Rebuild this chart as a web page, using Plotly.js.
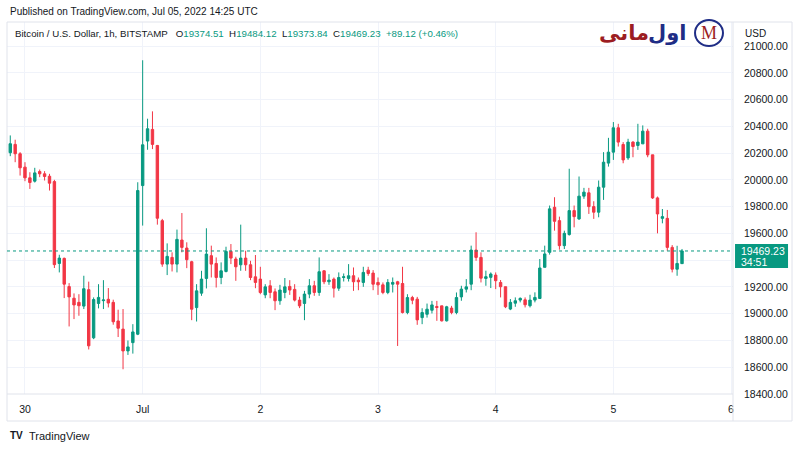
<!DOCTYPE html>
<html>
<head>
<meta charset="utf-8">
<script src="https://cdn.plot.ly/plotly-3.0.1.min.js"></script>
<style>
  html, body { margin: 0; padding: 0; background: #ffffff; }
  #chart { width: 800px; height: 450px; }
</style>
</head>
<body>
<div id="chart"></div>
<script>
// hourly BTC/USD candles, Bitstamp, first bar 2022-06-29 21:00 UTC
const firstBar = Date.UTC(2022, 5, 29, 21, 0);

const opens = [
  20204, 20266, 20196, 20096, 20016, 19991, 20063, 20046, 20028, 19988,
  19376, 19414, 19203, 19116, 19085, 19057, 19180, 18820, 19077, 19098,
  19108, 19085, 18946, 18885, 18722, 18784, 18847, 19958, 20291, 20378,
  20258, 19696, 19371, 19421, 19371, 19551, 19491, 19389, 19046, 19154,
  19264, 19434, 19376, 19271, 19316, 19466, 19409, 19366, 19416, 19366,
  19276, 19259, 19141, 19209, 19164, 19097, 19159, 19204, 19182, 19102,
  19077, 19147, 19209, 19159, 19321, 19239, 19259, 19191, 19271, 19264,
  19284, 19251, 19234, 19326, 19304, 19234, 19216, 19159, 19221, 19239,
  19226, 19009, 19121, 19109, 18971, 18996, 19026, 19054, 19059, 18947,
  19042, 19009, 19126, 19184, 19221, 19476, 19421, 19264, 19272, 19289,
  19234, 19202, 19035, 19079, 19102, 19104, 19060, 19102, 19114, 19347,
  19459, 19796, 19696, 19509, 19592, 19771, 19709, 19879, 19904, 19801,
  19759, 19946, 20126, 20208, 20390, 20265, 20165, 20283, 20258, 20270,
  20365, 20188, 19866, 19713, 19713, 19496, 19333, 19374.51
];
const highs = [
  20333, 20301, 20208, 20133, 20058, 20091, 20078, 20066, 20046, 20001,
  19441, 19420, 19229, 19152, 19146, 19284, 19240, 19122, 19221, 19251,
  19192, 19105, 19030, 19035, 18800, 18922, 19983, 20895, 20458, 20513,
  20262, 19709, 19526, 19459, 19629, 19753, 19534, 19396, 19221, 19321,
  19639, 19509, 19421, 19384, 19501, 19521, 19426, 19666, 19471, 19396,
  19439, 19351, 19221, 19251, 19189, 19216, 19267, 19251, 19221, 19127,
  19171, 19259, 19246, 19421, 19326, 19296, 19271, 19309, 19301, 19371,
  19346, 19271, 19351, 19351, 19326, 19271, 19234, 19259, 19271, 19246,
  19351, 19146, 19134, 19126, 19041, 19076, 19096, 19096, 19059, 19059,
  19059, 19159, 19209, 19259, 19509, 19609, 19459, 19322, 19309, 19309,
  19252, 19202, 19110, 19122, 19122, 19122, 19142, 19160, 19409, 19509,
  19809, 19871, 19726, 19621, 20084, 19809, 20026, 19941, 19941, 19841,
  19996, 20208, 20315, 20433, 20420, 20283, 20308, 20290, 20420, 20408,
  20383, 20188, 19876, 19783, 19776, 19513, 19508, 19484.12
];
const lows = [
  20178, 20133, 20033, 19991, 19933, 19981, 20021, 19996, 19921, 19342,
  19309, 19117, 18905, 18960, 18985, 19035, 18733, 18810, 19040, 19035,
  19047, 18918, 18826, 18585, 18692, 18702, 18840, 19659, 20226, 20231,
  19666, 19351, 19289, 19316, 19309, 19459, 19341, 18952, 18942, 19134,
  19189, 19271, 19196, 19221, 19309, 19371, 19246, 19321, 19321, 19251,
  19191, 19146, 19116, 19116, 19027, 19067, 19116, 19141, 19092, 19042,
  18952, 19116, 19134, 19134, 19221, 19216, 19121, 19171, 19241, 19241,
  19171, 19176, 19201, 19284, 19176, 19141, 19146, 19146, 19159, 18759,
  19002, 18996, 19071, 18917, 18922, 18971, 19002, 18947, 18942, 18942,
  18996, 18996, 19097, 19159, 19176, 19396, 19234, 19209, 19192, 19184,
  19122, 19042, 19027, 19052, 19085, 19047, 19047, 19085, 19110, 19347,
  19442, 19621, 19479, 19484, 19584, 19646, 19701, 19859, 19746, 19709,
  19721, 19851, 20100, 20150, 20250, 20125, 20150, 20170, 20225, 20270,
  20170, 19858, 19601, 19676, 19471, 19309, 19284, 19373.84
];
const closes = [
  20271, 20196, 20091, 20016, 19981, 20053, 20046, 20026, 19976, 19367,
  19416, 19221, 19126, 19066, 19060, 19187, 18760, 19106, 19122, 19103,
  19080, 18940, 18892, 18722, 18752, 18864, 19921, 20263, 20383, 20266,
  19714, 19371, 19429, 19371, 19556, 19496, 19404, 19034, 19171, 19259,
  19446, 19371, 19271, 19321, 19466, 19416, 19351, 19416, 19366, 19271,
  19234, 19159, 19201, 19159, 19097, 19177, 19201, 19177, 19102, 19059,
  19147, 19209, 19159, 19314, 19239, 19251, 19191, 19271, 19276, 19284,
  19239, 19239, 19309, 19301, 19221, 19216, 19159, 19234, 19234, 19221,
  19009, 19121, 19101, 18954, 19009, 19034, 19066, 19047, 18947, 19052,
  19009, 19121, 19184, 19201, 19476, 19421, 19266, 19277, 19297, 19247,
  19202, 19052, 19085, 19097, 19115, 19067, 19102, 19122, 19342, 19447,
  19784, 19691, 19509, 19601, 19771, 19726, 19879, 19909, 19801, 19759,
  19946, 20133, 20208, 20390, 20283, 20150, 20283, 20250, 20283, 20365,
  20188, 19866, 19746, 19726, 19496, 19333, 19376, 19469.23
];

const dayTicks = ['2022-06-30', '2022-07-01', '2022-07-02', '2022-07-03', '2022-07-04', '2022-07-05', '2022-07-06'];
const dayLabels = ['30', 'Jul', '2', '3', '4', '5', '6'];
const priceTicks = [18400, 18600, 18800, 19000, 19200, 19400, 19600, 19800, 20000, 20200, 20400, 20600, 20800, 21000];
// 19400.00 sits under the last-price badge, so its label is not shown
const hiddenTick = 19400;

const up = '#089981';
const down = '#f23645';
const ink = '#131722';

function barTime(i) {
  const d = new Date(firstBar + i * 3600000);
  return d.toISOString().slice(0, 16).replace('T', ' ');
}
const times = opens.map((_, i) => barTime(i));
const last = closes[closes.length - 1];
const priceLabels = priceTicks.map(v => v === hiddenTick ? '' : v.toFixed(2));

const trace = {
  type: 'candlestick',
  x: times,
  open: opens,
  high: highs,
  low: lows,
  close: closes,
  increasing: { line: { color: up, width: 1 }, fillcolor: up },
  decreasing: { line: { color: down, width: 1 }, fillcolor: down },
  whiskerwidth: 0,
  hoverinfo: 'skip',
  showlegend: false
};

const frame = '#e0e3eb';

const layout = {
  width: 800,
  height: 450,
  margin: { l: 7, r: 67, t: 22, b: 56 },
  paper_bgcolor: '#ffffff',
  plot_bgcolor: '#ffffff',
  font: { family: 'Liberation Sans, Arial, sans-serif', size: 11, color: ink },
  showlegend: false,
  xaxis: {
    type: 'date',
    range: ['2022-06-29 20:20', '2022-07-06 00:24'],
    rangeslider: { visible: false },
    tickvals: dayTicks,
    ticktext: dayLabels,
    tickfont: { size: 10.5, color: ink },
    ticks: '',
    ticklabelstandoff: 7,
    showgrid: true,
    gridcolor: '#f0f3fa',
    gridwidth: 1,
    zeroline: false,
    showline: false,
    fixedrange: true
  },
  yaxis: {
    side: 'right',
    range: [18400, 21181],
    tickvals: priceTicks,
    ticktext: priceLabels,
    tickfont: { size: 10.5, color: ink },
    ticks: '',
    ticklabelstandoff: 10,
    showgrid: true,
    gridcolor: '#f0f3fa',
    gridwidth: 1,
    zeroline: false,
    showline: false,
    fixedrange: true
  },
  shapes: [
    // outer frame
    { type: 'rect', xref: 'paper', yref: 'paper', x0: 0, x1: 1.0813, y0: -0.0726, y1: 1,
      line: { color: frame, width: 1 } },
    // price scale separator
    { type: 'line', xref: 'paper', yref: 'paper', x0: 1, x1: 1, y0: -0.0726, y1: 1,
      line: { color: frame, width: 1 } },
    // time scale separator
    { type: 'line', xref: 'paper', yref: 'paper', x0: 0, x1: 1, y0: 0, y1: 0,
      line: { color: frame, width: 1 } },
    // last price line
    { type: 'line', xref: 'paper', yref: 'y', x0: 0, x1: 1, y0: last, y1: last,
      line: { color: up, width: 1, dash: 'dot' } },
    // last price badge
    { type: 'rect', xref: 'paper', yref: 'paper', x0: 1.0028, x1: 1.0758, y0: 0.3387, y1: 0.4032,
      fillcolor: up, line: { width: 0 } },
    // logo ring
    { type: 'circle', xref: 'paper', yref: 'paper',
      x0: 0.9477, x1: 0.9862, y0: 0.9355, y1: 1.0054,
      line: { color: '#1f2d86', width: 2 } }
  ],
  annotations: [
    { xref: 'paper', yref: 'paper', x: 0.0014, y: 1.0269, xanchor: 'left', yanchor: 'middle',
      text: 'Published on TradingView.com, Jul 05, 2022 14:25 UTC',
      showarrow: false, font: { size: 10, color: ink } },
    { xref: 'paper', yref: 'paper', x: 0.0083, y: 0.9704, xanchor: 'left', yanchor: 'middle',
      text: 'Bitcoin / U.S. Dollar, 1h, BITSTAMP&nbsp;&nbsp; O<span style="fill:' + up + '">19374.51</span>&nbsp; H<span style="fill:' + up + '">19484.12</span>&nbsp; L<span style="fill:' + up + '">19373.84</span>&nbsp; C<span style="fill:' + up + '">19469.23</span>&nbsp; <span style="fill:' + up + '">+89.12 (+0.46%)</span>',
      showarrow: false, font: { size: 9.7, color: ink } },
    { xref: 'paper', yref: 'paper', x: 1.0138, y: 0.9704, xanchor: 'left', yanchor: 'middle',
      text: 'USD', showarrow: false, font: { size: 10, color: ink } },
    { xref: 'paper', yref: 'y', x: 1.0083, y: last, xanchor: 'left', yanchor: 'middle',
      text: '19469.23', showarrow: false, font: { size: 10.5, color: '#ffffff' } },
    { xref: 'paper', yref: 'paper', x: 1.0083, y: 0.3548, xanchor: 'left', yanchor: 'middle',
      text: '34:51', showarrow: false, font: { size: 10.5, color: '#ffffff' } },
    // Persian logo
    { xref: 'paper', yref: 'paper', x: 0.9091, y: 0.9704, xanchor: 'center', yanchor: 'middle',
      text: '<b>اول</b>', showarrow: false,
      font: { family: 'DejaVu Sans', size: 21, color: '#1f2d86' } },
    { xref: 'paper', yref: 'paper', x: 0.8499, y: 0.9704, xanchor: 'center', yanchor: 'middle',
      text: '<b>مانی</b>', showarrow: false,
      font: { family: 'DejaVu Sans', size: 21, color: '#9c1d22' } },
    { xref: 'paper', yref: 'paper', x: 0.9669, y: 0.9704, xanchor: 'center', yanchor: 'middle',
      text: 'M', showarrow: false,
      font: { family: 'Liberation Serif', size: 18, color: '#9c1d22' } },
    // bottom brand
    { xref: 'paper', yref: 'paper', x: 0.0014, y: -0.1128, xanchor: 'left', yanchor: 'middle',
      text: '<b>TV</b>', showarrow: false, font: { size: 10, color: ink } },
    { xref: 'paper', yref: 'paper', x: 0.0275, y: -0.1128, xanchor: 'left', yanchor: 'middle',
      text: 'TradingView', showarrow: false, font: { size: 11, color: ink } }
  ]
};

Plotly.newPlot('chart', [trace], layout, { displayModeBar: false, staticPlot: true });
</script>
</body>
</html>
